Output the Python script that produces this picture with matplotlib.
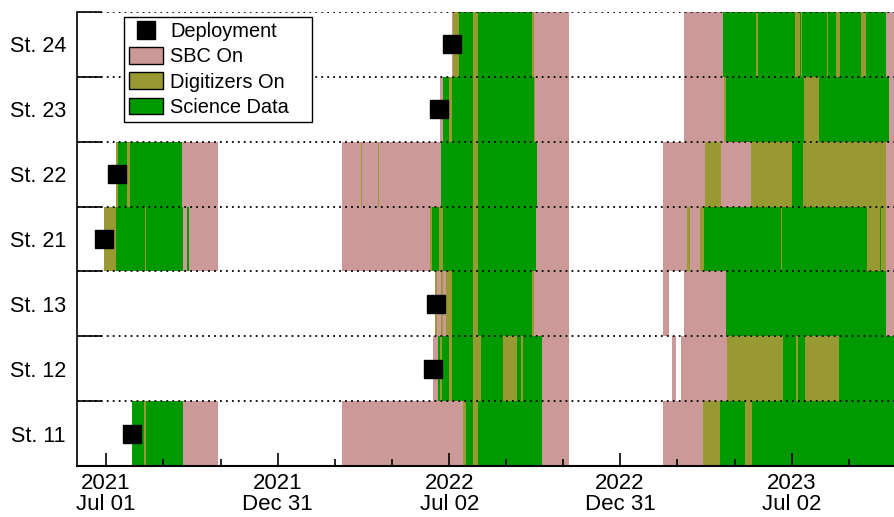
"""
Station operation timeline: SBC / digitizer / science-data periods per station.
Saves out.png
"""

import numpy as np
import pandas as pd
import matplotlib
matplotlib.use("Agg")
import matplotlib.pyplot as plt
import matplotlib.dates as mdates
from matplotlib.patches import Patch
from matplotlib.lines import Line2D

plt.rcParams["font.family"] = ["Liberation Sans", "DejaVu Sans"]

# ── Data ───────────────────────────────────────────────────────────────────
# rows from bottom to top
STATIONS   = ["St. 11", "St. 12", "St. 13", "St. 21", "St. 22", "St. 23", "St. 24"]
DEPLOYMENT = ["2021-07-29", "2022-06-15", "2022-06-18", "2021-06-29",
              "2021-07-13", "2022-06-21", "2022-07-05"]

# (start, end, state)  S = SBC on, D = digitizers on, G = science data
ST11 = [
    ("2021-07-29", "2021-08-10", "G"), ("2021-08-10", "2021-08-13", "D"),
    ("2021-08-13", "2021-09-21", "G"), ("2021-09-21", "2021-10-28", "S"),
    ("2022-03-10", "2022-07-16", "S"), ("2022-07-16", "2022-07-20", "D"),
    ("2022-07-20", "2022-07-27", "G"), ("2022-07-27", "2022-08-01", "D"),
    ("2022-08-01", "2022-10-09", "G"), ("2022-10-09", "2022-11-06", "S"),
    ("2023-02-15", "2023-03-29", "S"), ("2023-03-29", "2023-04-17", "D"),
    ("2023-04-17", "2023-05-13", "G"), ("2023-05-13", "2023-05-21", "D"),
    ("2023-05-21", "2023-10-31", "G"),
]
ST12 = [
    ("2022-06-15", "2022-06-20", "S"), ("2022-06-20", "2022-06-22", "G"),
    ("2022-06-22", "2022-06-24", "D"), ("2022-06-24", "2022-07-02", "G"),
    ("2022-07-02", "2022-07-05", "D"), ("2022-07-05", "2022-07-27", "G"),
    ("2022-07-27", "2022-08-05", "D"), ("2022-08-05", "2022-08-28", "G"),
    ("2022-08-28", "2022-09-12", "D"), ("2022-09-12", "2022-09-16", "G"),
    ("2022-09-16", "2022-09-19", "D"), ("2022-09-19", "2022-10-09", "G"),
    ("2022-10-09", "2022-11-06", "S"),
    ("2023-02-24", "2023-03-01", "S"), ("2023-03-06", "2023-04-24", "S"),
    ("2023-04-24", "2023-06-23", "D"), ("2023-06-23", "2023-07-06", "G"),
    ("2023-07-06", "2023-07-09", "D"), ("2023-07-09", "2023-07-16", "G"),
    ("2023-07-16", "2023-08-21", "D"), ("2023-08-21", "2023-10-31", "G"),
]
ST13 = [
    ("2022-06-17", "2022-06-19", "D"), ("2022-06-19", "2022-06-23", "S"),
    ("2022-06-23", "2022-06-25", "D"), ("2022-06-25", "2022-06-28", "S"),
    ("2022-06-28", "2022-07-05", "D"), ("2022-07-05", "2022-07-27", "G"),
    ("2022-07-27", "2022-08-01", "D"), ("2022-08-01", "2022-09-28", "G"),
    ("2022-09-28", "2022-09-30", "D"), ("2022-09-30", "2022-11-06", "S"),
    ("2023-02-15", "2023-02-21", "S"), ("2023-03-09", "2023-04-23", "S"),
    ("2023-04-23", "2023-10-11", "G"), ("2023-10-11", "2023-10-31", "S"),
]
ST21 = [
    ("2021-06-29", "2021-07-12", "D"), ("2021-07-12", "2021-08-12", "G"),
    ("2021-08-12", "2021-08-13", "D"), ("2021-08-13", "2021-09-21", "G"),
    ("2021-09-21", "2021-09-25", "S"), ("2021-09-25", "2021-09-27", "G"),
    ("2021-09-27", "2021-10-28", "S"),
    ("2022-03-10", "2022-06-11", "S"), ("2022-06-11", "2022-06-13", "D"),
    ("2022-06-13", "2022-06-21", "G"), ("2022-06-21", "2022-06-25", "D"),
    ("2022-06-25", "2022-07-27", "G"), ("2022-07-27", "2022-08-01", "D"),
    ("2022-08-01", "2022-10-02", "G"), ("2022-10-02", "2022-11-06", "S"),
    ("2023-02-15", "2023-03-12", "S"), ("2023-03-12", "2023-03-15", "D"),
    ("2023-03-15", "2023-03-26", "S"), ("2023-03-26", "2023-03-30", "D"),
    ("2023-03-30", "2023-06-21", "G"), ("2023-06-21", "2023-06-22", "D"),
    ("2023-06-22", "2023-09-20", "G"), ("2023-09-20", "2023-10-04", "D"),
    ("2023-10-04", "2023-10-05", "G"), ("2023-10-05", "2023-10-11", "D"),
    ("2023-10-11", "2023-10-31", "S"),
]
ST22 = [
    ("2021-07-12", "2021-07-14", "D"), ("2021-07-14", "2021-07-23", "G"),
    ("2021-07-23", "2021-07-26", "D"), ("2021-07-26", "2021-09-20", "G"),
    ("2021-09-20", "2021-10-28", "S"),
    ("2022-03-10", "2022-03-30", "S"), ("2022-03-30", "2022-03-31", "D"),
    ("2022-03-31", "2022-04-17", "S"), ("2022-04-17", "2022-04-18", "D"),
    ("2022-04-18", "2022-06-23", "S"), ("2022-06-23", "2022-07-27", "G"),
    ("2022-07-27", "2022-08-01", "D"), ("2022-08-01", "2022-10-03", "G"),
    ("2022-10-03", "2022-11-06", "S"),
    ("2023-02-15", "2023-03-31", "S"), ("2023-03-31", "2023-04-18", "D"),
    ("2023-04-18", "2023-05-20", "S"), ("2023-05-20", "2023-07-02", "D"),
    ("2023-07-02", "2023-07-14", "G"), ("2023-07-14", "2023-10-11", "D"),
    ("2023-10-11", "2023-10-31", "S"),
]
ST23 = [
    ("2022-06-22", "2022-06-25", "S"), ("2022-06-25", "2022-07-02", "G"),
    ("2022-07-02", "2022-07-05", "D"), ("2022-07-05", "2022-07-27", "G"),
    ("2022-07-27", "2022-08-01", "D"), ("2022-08-01", "2022-09-30", "G"),
    ("2022-09-30", "2022-10-01", "D"), ("2022-10-01", "2022-11-06", "S"),
    ("2023-03-09", "2023-04-21", "S"), ("2023-04-21", "2023-04-23", "D"),
    ("2023-04-23", "2023-07-15", "G"), ("2023-07-15", "2023-07-31", "D"),
    ("2023-07-31", "2023-10-14", "G"), ("2023-10-14", "2023-10-31", "S"),
]
ST24 = [
    ("2022-07-05", "2022-07-06", "S"), ("2022-07-06", "2022-07-12", "D"),
    ("2022-07-12", "2022-07-27", "G"), ("2022-07-27", "2022-08-01", "D"),
    ("2022-08-01", "2022-09-28", "G"), ("2022-09-28", "2022-09-30", "D"),
    ("2022-09-30", "2022-11-06", "S"),
    ("2023-03-09", "2023-04-20", "S"), ("2023-04-20", "2023-05-25", "G"),
    ("2023-05-25", "2023-05-27", "D"), ("2023-05-27", "2023-07-05", "G"),
    ("2023-07-05", "2023-07-11", "D"), ("2023-07-11", "2023-07-12", "G"),
    ("2023-07-12", "2023-07-13", "D"), ("2023-07-13", "2023-08-09", "G"),
    ("2023-08-09", "2023-08-10", "D"), ("2023-08-10", "2023-08-18", "G"),
    ("2023-08-18", "2023-08-22", "D"), ("2023-08-22", "2023-09-14", "G"),
    ("2023-09-14", "2023-09-19", "D"), ("2023-09-19", "2023-10-11", "G"),
    ("2023-10-11", "2023-10-31", "S"),
]
SEGMENTS = [ST11, ST12, ST13, ST21, ST22, ST23, ST24]

STATE_COLORS = {"S": "#cc9999", "D": "#999933", "G": "#009900"}
STATE_LABELS = {"S": "SBC On", "D": "Digitizers On", "G": "Science Data"}

X_RANGE     = ("2021-05-31", "2023-10-19")
TICK_DATES  = ["2021-07-01", "2021-12-31", "2022-07-02", "2022-12-31", "2023-07-02"]
TICK_LABELS = ["2021\nJul 01", "2021\nDec 31", "2022\nJul 02", "2022\nDec 31", "2023\nJul 02"]


def dnum(s):
    return mdates.date2num(pd.Timestamp(s))


# ── Chart ──────────────────────────────────────────────────────────────────
fig = plt.figure(figsize=(8.94, 5.17), dpi=100)
ax = fig.add_axes([77 / 894, 1 - 466 / 517, 1 - 77 / 894, (466 - 12) / 517])

for row, segs in enumerate(SEGMENTS):
    for start, end, state in segs:
        x0, x1 = dnum(start), dnum(end)
        ax.broken_barh([(x0, x1 - x0)], (row, 1), facecolors=STATE_COLORS[state],
                       linewidth=0, antialiased=False, zorder=1)

dep_x = [dnum(d) for d in DEPLOYMENT]
ax.plot(dep_x, np.arange(len(STATIONS)) + 0.5, "s", color="black",
        markersize=13.5, zorder=4, clip_on=False)

# row separators (dotted)
for y in range(1, len(STATIONS) + 1):
    ax.axhline(y, color="black", linestyle=(0, (1, 2.3)), linewidth=1.3, zorder=3)

ax.set_xlim(dnum(X_RANGE[0]), dnum(X_RANGE[1]))
ax.set_ylim(0, len(STATIONS))

ticks = [dnum(d) for d in TICK_DATES]
ax.set_xticks(ticks)
ax.set_xticklabels(TICK_LABELS, fontsize=16, linespacing=1.0)
minor = []
for a, b in zip(ticks[:-1], ticks[1:]):
    minor += [a + (b - a) / 3, a + 2 * (b - a) / 3]
minor.append(ticks[-1] + (ticks[-1] - ticks[-2]) / 3)
ax.set_xticks(minor, minor=True)
ax.tick_params(axis="x", which="major", direction="in", length=9.5, width=1.2, pad=5)
ax.tick_params(axis="x", which="minor", direction="in", length=4.8, width=1.2)

ax.set_yticks(np.arange(len(STATIONS) + 1))
ax.set_yticklabels([])
ax.set_yticks(np.arange(len(STATIONS)) + 0.5, minor=True)
ax.set_yticklabels(STATIONS, minor=True, fontsize=15.5)
ax.tick_params(axis="y", which="major", direction="in", length=18, width=1.2)
ax.tick_params(axis="y", which="minor", length=0, pad=8)

for side in ("top", "right"):
    ax.spines[side].set_visible(False)
ax.spines["left"].set_linewidth(1.2)
ax.spines["bottom"].set_linewidth(1.5)
ax.spines["left"].set_zorder(5)
ax.spines["bottom"].set_zorder(5)

handles = [Line2D([], [], marker="s", color="black", linestyle="none", markersize=13.5)]
handles += [Patch(facecolor=STATE_COLORS[k], edgecolor="black", linewidth=1.0,
                  label=STATE_LABELS[k]) for k in ("S", "D", "G")]
labels = ["Deployment"] + [STATE_LABELS[k] for k in ("S", "D", "G")]
labels[2] += "    "   # ROOT-style legend box leaves room on the right
leg = fig.legend(handles, labels, loc="upper left", bbox_to_anchor=(124 / 894, 1 - 17 / 517),
                 bbox_transform=fig.transFigure, borderaxespad=0, fontsize=14.4,
                 frameon=True, fancybox=False, edgecolor="black", framealpha=1,
                 handlelength=1.7, handleheight=0.9, handletextpad=0.35,
                 labelspacing=0.3, borderpad=0.25)
leg.get_frame().set_linewidth(1.0)

fig.savefig("out.png", dpi=100)
